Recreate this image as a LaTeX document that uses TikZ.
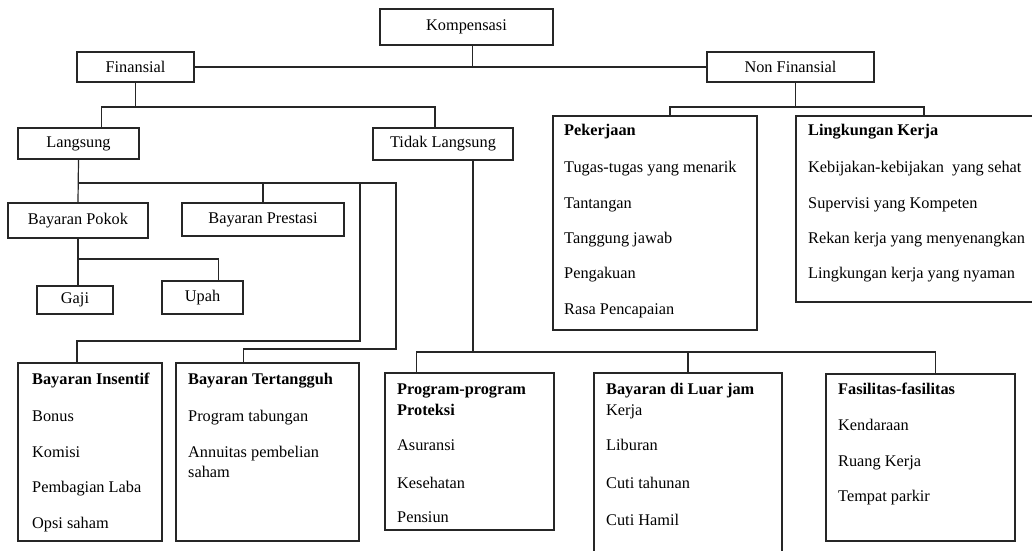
\documentclass[tikz,border=0pt]{standalone}
\usepackage{fontspec}
\setmainfont{Liberation Serif}

\begin{document}
\begin{tikzpicture}[
  x=1pt, y=-1pt,
  box/.style={draw=black!85, line width=1.2pt, inner sep=0pt,
    font=\fontsize{16.3}{19}\selectfont},
  item/.style={anchor=base west, inner sep=0pt,
    font=\fontsize{16.3}{19}\selectfont},
  head/.style={item, font=\fontsize{16.3}{19}\selectfont\bfseries},
  link/.style={draw=black!85, line width=1.2pt},
]
  \useasboundingbox (0,0) rectangle (1032,550);
  \clip (0,0) rectangle (1032,550);
  \node[box, minimum width=173pt, minimum height=36pt] (komp) at (466.5,27) {Kompensasi};
  \node[box, minimum width=117pt, minimum height=30pt] (fin) at (135.5,67) {Finansial};
  \node[box, minimum width=167pt, minimum height=30pt] (nonfin) at (790.5,67) {Non Finansial};
  \node[box, minimum width=121pt, minimum height=31pt] (lang) at (78.5,143.5) {Langsung};
  \node[box, minimum width=140pt, minimum height=32pt] (tidak) at (443,144) {Tidak Langsung};
  \node[box, minimum width=140pt, minimum height=35pt] (pokok) at (78,220.5) {Bayaran Pokok};
  \node[box, minimum width=162pt, minimum height=33pt] (prestasi) at (263,219.5) {Bayaran Prestasi};
  \node[box, minimum width=76pt, minimum height=28pt] (gaji) at (75,300) {Gaji};
  \node[box, minimum width=81pt, minimum height=33pt] (upah) at (202.5,297.5) {Upah};
  \node[box, minimum width=204pt, minimum height=214pt] (pek) at (655,223) {};
  \node[box, minimum width=244pt, minimum height=186pt] (ling) at (918,209) {};
  \node[box, minimum width=144pt, minimum height=178pt] (insentif) at (90,452) {};
  \node[box, minimum width=183pt, minimum height=178pt] (tertangguh) at (267.5,452) {};
  \node[box, minimum width=169pt, minimum height=157pt] (proteksi) at (469.5,451.5) {};
  \node[box, minimum width=188pt, minimum height=200pt] (luar) at (688,473) {};
  \node[box, minimum width=189pt, minimum height=167pt] (fasil) at (920.5,457.5) {};

  \node[head] (pek-t) at (564,135.5) {Pekerjaan};
  \foreach \y/\t [count=\i] in {172.5/Tugas-tugas yang menarik, 208.5/Tantangan,
      243.5/Tanggung jawab, 278.5/Pengakuan, 314.5/Rasa Pencapaian}
    \node[item] (pek-\i) at (564,\y) {\t};
  \node[head] (ling-t) at (808,135.5) {Lingkungan Kerja};
  \foreach \y/\t [count=\i] in {172.5/Kebijakan-kebijakan\ \ yang sehat,
      208.5/Supervisi yang Kompeten, 243.5/Rekan kerja yang menyenangkan,
      278.5/Lingkungan kerja yang nyaman}
    \node[item] (ling-\i) at (808,\y) {\t};
  \node[head] (ins-t) at (32,384.5) {Bayaran Insentif};
  \foreach \y/\t [count=\i] in {421.5/Bonus, 457.5/Komisi, 492.5/Pembagian Laba,
      528.5/Opsi saham}
    \node[item] (ins-\i) at (32,\y) {\t};
  \node[head] (ter-t) at (188,384.5) {Bayaran Tertangguh};
  \foreach \y/\t [count=\i] in {421.5/Program tabungan, 457.5/Annuitas pembelian,
      477.5/saham}
    \node[item] (ter-\i) at (188,\y) {\t};
  \node[head] (pro-t1) at (397,394.5) {Program-program};
  \node[head] (pro-t2) at (397,415.5) {Proteksi};
  \foreach \y/\t [count=\i] in {450.5/Asuransi, 488.5/Kesehatan, 522.5/Pensiun}
    \node[item] (pro-\i) at (397,\y) {\t};
  \node[head] (luar-t) at (606,394.5) {Bayaran di Luar jam};
  \foreach \y/\t [count=\i] in {415.5/Kerja, 450.5/Liburan, 488.5/Cuti tahunan,
      525.5/Cuti Hamil}
    \node[item] (luar-\i) at (606,\y) {\t};
  \node[head] (fas-t) at (838,394.5) {Fasilitas-fasilitas};
  \foreach \y/\t [count=\i] in {430.5/Kendaraan, 466.5/Ruang Kerja, 501.5/Tempat parkir}
    \node[item] (fas-\i) at (838,\y) {\t};

  \coordinate (fbus) at (0,107);
  \coordinate (lbus) at (0,183);
  \coordinate (pbus) at (0,259);
  \coordinate (tbus) at (0,352);
  \coordinate (insbend) at (360,341);
  \coordinate (terbend) at (396,349);
  \coordinate (kompbot) at ([xshift=6pt]komp.south);
  \coordinate (nfbot) at ([xshift=5pt]nonfin.south);
  \coordinate (langtop) at ([xshift=23pt]lang.north);
  \coordinate (tidtop) at ([xshift=-8pt]tidak.north);
  \coordinate (tidbot) at ([xshift=30pt]tidak.south);
  \coordinate (pektop) at ([xshift=15pt]pek.north);
  \coordinate (lingtop) at ([xshift=6pt]ling.north);
  \coordinate (upahtop) at ([xshift=16pt]upah.north);
  \coordinate (instop) at ([xshift=-13pt]insentif.north);
  \coordinate (tertop) at ([xshift=-24pt]tertangguh.north);
  \coordinate (protop) at ([xshift=-53pt]proteksi.north);
  \coordinate (fastop) at ([xshift=15pt]fasil.north);

  \draw[link] (fin.east) -- (nonfin.west);
  \draw[link] (kompbot) -- (kompbot |- fin.east);
  \draw[link] (fin.south) -- (fin.south |- fbus);
  \draw[link] (langtop) |- (fbus -| tidtop) -- (tidtop);
  \draw[link] (nfbot) -- (nfbot |- fbus);
  \draw[link] (pektop) |- (fbus -| lingtop) -- (lingtop);
  \draw[link] (lang.south) -- (pokok.north);
  \draw[link] (lang.south |- lbus) -| (prestasi.north);
  \draw[link] (lang.south |- lbus) -| (insbend) -| (instop);
  \draw[link] (lang.south |- lbus) -| (terbend) -| (tertop);
  \draw[link] (pokok.south) -- (pokok.south |- gaji.north);
  \draw[link] (pokok.south |- pbus) -| (upahtop);
  \draw[link] (tidbot) -- (tidbot |- tbus);
  \draw[link] (protop) |- (tbus -| fastop) -- (fastop);
  \draw[link] (luar.north) -- (luar.north |- tbus);
\end{tikzpicture}
\end{document}
